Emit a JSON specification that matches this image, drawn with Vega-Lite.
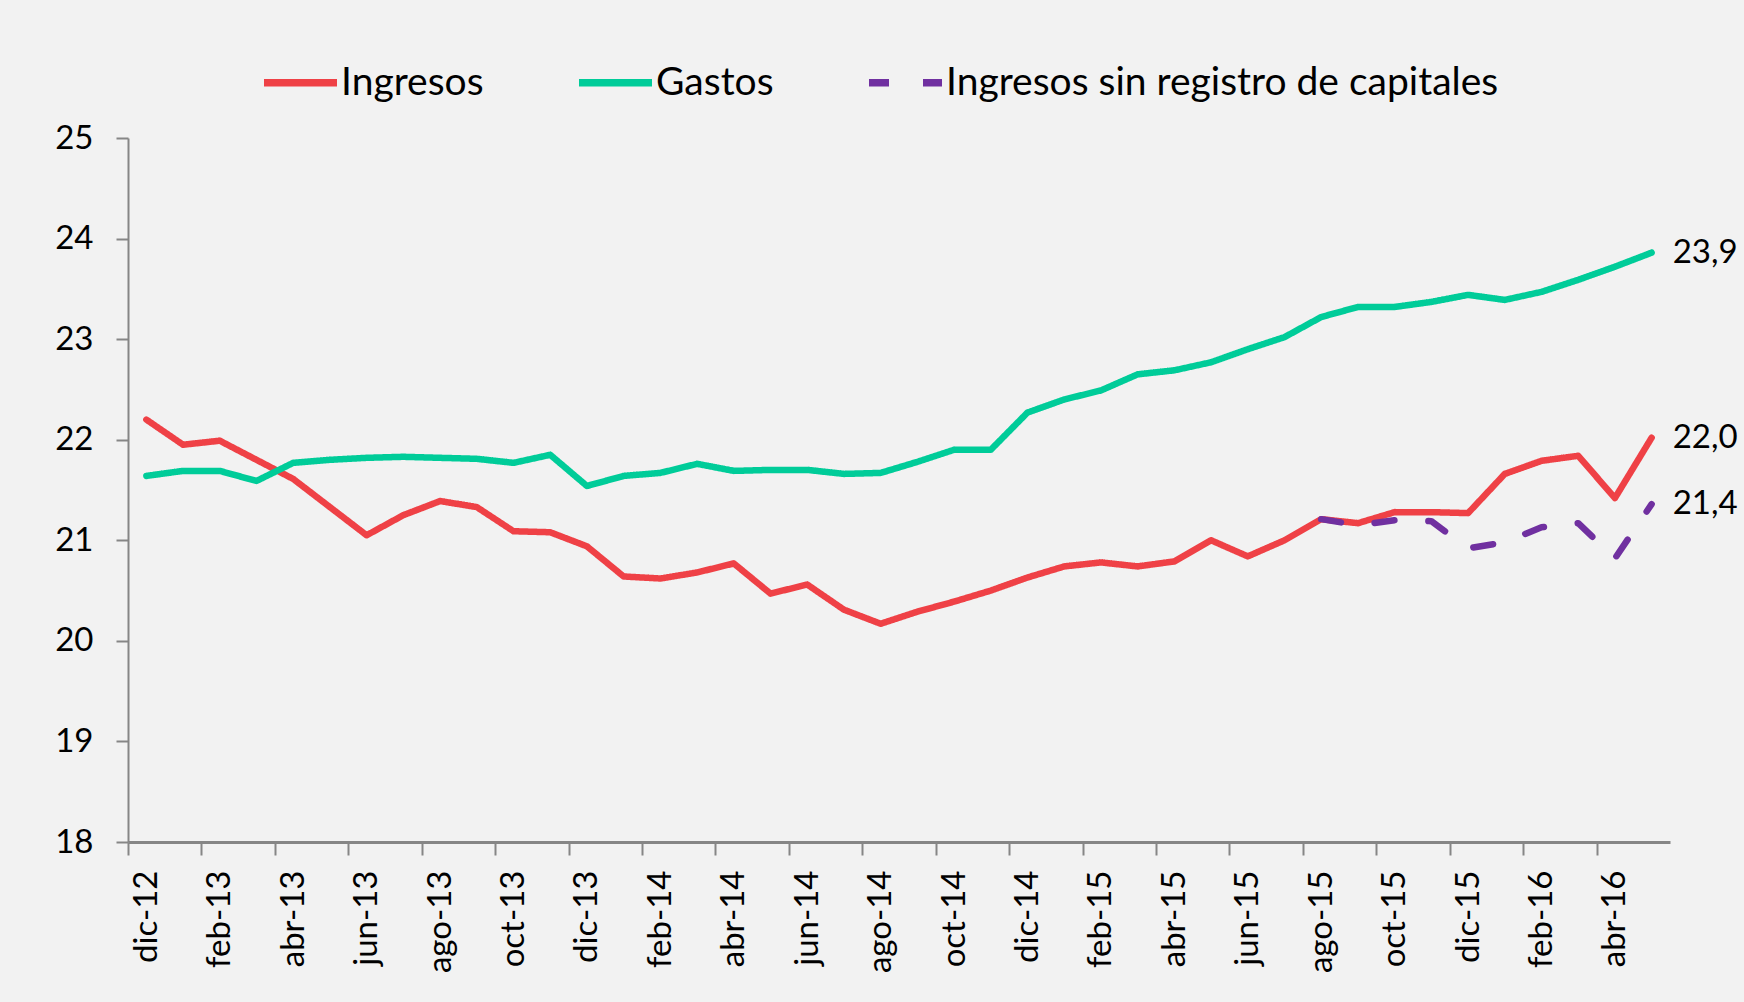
{
  "$schema": "https://vega.github.io/schema/vega-lite/v6.json",
  "width": 1542,
  "height": 704,
  "autosize": {"type": "none"},
  "padding": {"left": 128, "top": 138, "right": 74, "bottom": 160},
  "background": "#F2F2F2",
  "config": {
    "view": {"stroke": null},
    "font": "Lato",
    "locale": {"number": {"decimal": ",", "thousands": ".", "grouping": [3], "currency": ["", " €"]}}
  },
  "datasets": {
    "d": [
      {"mes":"dic-12","serie":"Ingresos","valor":22.20},{"mes":"ene-13","serie":"Ingresos","valor":21.95},{"mes":"feb-13","serie":"Ingresos","valor":21.99},{"mes":"mar-13","serie":"Ingresos","valor":21.80},{"mes":"abr-13","serie":"Ingresos","valor":21.61},{"mes":"may-13","serie":"Ingresos","valor":21.33},{"mes":"jun-13","serie":"Ingresos","valor":21.05},{"mes":"jul-13","serie":"Ingresos","valor":21.25},{"mes":"ago-13","serie":"Ingresos","valor":21.39},{"mes":"sep-13","serie":"Ingresos","valor":21.33},{"mes":"oct-13","serie":"Ingresos","valor":21.09},{"mes":"nov-13","serie":"Ingresos","valor":21.08},{"mes":"dic-13","serie":"Ingresos","valor":20.94},
      {"mes":"ene-14","serie":"Ingresos","valor":20.64},{"mes":"feb-14","serie":"Ingresos","valor":20.62},{"mes":"mar-14","serie":"Ingresos","valor":20.68},{"mes":"abr-14","serie":"Ingresos","valor":20.77},{"mes":"may-14","serie":"Ingresos","valor":20.47},{"mes":"jun-14","serie":"Ingresos","valor":20.56},{"mes":"jul-14","serie":"Ingresos","valor":20.31},{"mes":"ago-14","serie":"Ingresos","valor":20.17},{"mes":"sep-14","serie":"Ingresos","valor":20.29},{"mes":"oct-14","serie":"Ingresos","valor":20.39},{"mes":"nov-14","serie":"Ingresos","valor":20.50},{"mes":"dic-14","serie":"Ingresos","valor":20.63},
      {"mes":"ene-15","serie":"Ingresos","valor":20.74},{"mes":"feb-15","serie":"Ingresos","valor":20.78},{"mes":"mar-15","serie":"Ingresos","valor":20.74},{"mes":"abr-15","serie":"Ingresos","valor":20.79},{"mes":"may-15","serie":"Ingresos","valor":21.00},{"mes":"jun-15","serie":"Ingresos","valor":20.84},{"mes":"jul-15","serie":"Ingresos","valor":21.00},{"mes":"ago-15","serie":"Ingresos","valor":21.21},{"mes":"sep-15","serie":"Ingresos","valor":21.17},{"mes":"oct-15","serie":"Ingresos","valor":21.28},{"mes":"nov-15","serie":"Ingresos","valor":21.28},{"mes":"dic-15","serie":"Ingresos","valor":21.27},
      {"mes":"ene-16","serie":"Ingresos","valor":21.66},{"mes":"feb-16","serie":"Ingresos","valor":21.79},{"mes":"mar-16","serie":"Ingresos","valor":21.84},{"mes":"abr-16","serie":"Ingresos","valor":21.42},{"mes":"may-16","serie":"Ingresos","valor":22.02},
      {"mes":"dic-12","serie":"Gastos","valor":21.64},{"mes":"ene-13","serie":"Gastos","valor":21.69},{"mes":"feb-13","serie":"Gastos","valor":21.69},{"mes":"mar-13","serie":"Gastos","valor":21.59},{"mes":"abr-13","serie":"Gastos","valor":21.77},{"mes":"may-13","serie":"Gastos","valor":21.80},{"mes":"jun-13","serie":"Gastos","valor":21.82},{"mes":"jul-13","serie":"Gastos","valor":21.83},{"mes":"ago-13","serie":"Gastos","valor":21.82},{"mes":"sep-13","serie":"Gastos","valor":21.81},{"mes":"oct-13","serie":"Gastos","valor":21.77},{"mes":"nov-13","serie":"Gastos","valor":21.85},{"mes":"dic-13","serie":"Gastos","valor":21.54},
      {"mes":"ene-14","serie":"Gastos","valor":21.64},{"mes":"feb-14","serie":"Gastos","valor":21.67},{"mes":"mar-14","serie":"Gastos","valor":21.76},{"mes":"abr-14","serie":"Gastos","valor":21.69},{"mes":"may-14","serie":"Gastos","valor":21.70},{"mes":"jun-14","serie":"Gastos","valor":21.70},{"mes":"jul-14","serie":"Gastos","valor":21.66},{"mes":"ago-14","serie":"Gastos","valor":21.67},{"mes":"sep-14","serie":"Gastos","valor":21.78},{"mes":"oct-14","serie":"Gastos","valor":21.90},{"mes":"nov-14","serie":"Gastos","valor":21.90},{"mes":"dic-14","serie":"Gastos","valor":22.27},
      {"mes":"ene-15","serie":"Gastos","valor":22.40},{"mes":"feb-15","serie":"Gastos","valor":22.49},{"mes":"mar-15","serie":"Gastos","valor":22.65},{"mes":"abr-15","serie":"Gastos","valor":22.69},{"mes":"may-15","serie":"Gastos","valor":22.77},{"mes":"jun-15","serie":"Gastos","valor":22.90},{"mes":"jul-15","serie":"Gastos","valor":23.02},{"mes":"ago-15","serie":"Gastos","valor":23.22},{"mes":"sep-15","serie":"Gastos","valor":23.32},{"mes":"oct-15","serie":"Gastos","valor":23.32},{"mes":"nov-15","serie":"Gastos","valor":23.37},{"mes":"dic-15","serie":"Gastos","valor":23.44},
      {"mes":"ene-16","serie":"Gastos","valor":23.39},{"mes":"feb-16","serie":"Gastos","valor":23.47},{"mes":"mar-16","serie":"Gastos","valor":23.59},{"mes":"abr-16","serie":"Gastos","valor":23.72},{"mes":"may-16","serie":"Gastos","valor":23.86},
      {"mes":"ago-15","serie":"Ingresos sin registro de capitales","valor":21.21},{"mes":"sep-15","serie":"Ingresos sin registro de capitales","valor":21.15},{"mes":"oct-15","serie":"Ingresos sin registro de capitales","valor":21.20},{"mes":"nov-15","serie":"Ingresos sin registro de capitales","valor":21.19},{"mes":"dic-15","serie":"Ingresos sin registro de capitales","valor":20.92},{"mes":"ene-16","serie":"Ingresos sin registro de capitales","valor":20.98},{"mes":"feb-16","serie":"Ingresos sin registro de capitales","valor":21.13},{"mes":"mar-16","serie":"Ingresos sin registro de capitales","valor":21.17},{"mes":"abr-16","serie":"Ingresos sin registro de capitales","valor":20.82},{"mes":"may-16","serie":"Ingresos sin registro de capitales","valor":21.36}
    ]
  },
  "data": {"name": "d"},
  "encoding": {
    "x": {
      "field": "mes", "type": "ordinal",
      "scale": {"type": "point", "padding": 0.5, "domain": ["dic-12","ene-13","feb-13","mar-13","abr-13","may-13","jun-13","jul-13","ago-13","sep-13","oct-13","nov-13","dic-13","ene-14","feb-14","mar-14","abr-14","may-14","jun-14","jul-14","ago-14","sep-14","oct-14","nov-14","dic-14","ene-15","feb-15","mar-15","abr-15","may-15","jun-15","jul-15","ago-15","sep-15","oct-15","nov-15","dic-15","ene-16","feb-16","mar-16","abr-16","may-16"]},
      "axis": {
        "title": null,
        "values": ["dic-12","feb-13","abr-13","jun-13","ago-13","oct-13","dic-13","feb-14","abr-14","jun-14","ago-14","oct-14","dic-14","feb-15","abr-15","jun-15","ago-15","oct-15","dic-15","feb-16","abr-16"],
        "labelAngle": -90,
        "tickOffset": -18.36,
        "labelOffset": 18.36,
        "tickSize": 13,
        "tickColor": "#868686",
        "tickWidth": 2,
        "domainColor": "#868686",
        "domainWidth": 3,
        "labelPadding": 15,
        "labelFontSize": 33,
        "labelColor": "black",
        "grid": false
      }
    },
    "y": {
      "field": "valor", "type": "quantitative",
      "scale": {"domain": [18, 25], "nice": false, "zero": false},
      "axis": {
        "title": null,
        "values": [18,19,20,21,22,23,24,25],
        "tickSize": 12,
        "tickColor": "#868686",
        "tickWidth": 2,
        "domainColor": "#868686",
        "domainWidth": 2,
        "labelPadding": 23,
        "labelFontSize": 33,
        "labelColor": "black",
        "grid": false
      }
    }
  },
  "layer": [
    {
      "mark": {"type": "line", "strokeWidth": 6.5, "strokeCap": "round", "strokeJoin": "round"},
      "encoding": {
        "color": {
          "field": "serie", "type": "nominal",
          "scale": {"domain": ["Ingresos","Gastos","Ingresos sin registro de capitales"], "range": ["#EF4146","#00CC99","#7030A0"]},
          "legend": {"title": null, "orient": "none", "legendX": 132, "legendY": -96, "direction": "horizontal", "symbolType": "stroke", "symbolSize": 5329, "symbolStrokeWidth": 7.3, "labelFontSize": 39, "labelColor": "black", "labelOffset": 0, "columnPadding": 80, "labelLimit": 0}
        },
        "strokeDash": {
          "field": "serie", "type": "nominal",
          "scale": {"domain": ["Ingresos","Gastos","Ingresos sin registro de capitales"], "range": [[1,0],[1,0],[20,34]]},
          "legend": {"title": null, "orient": "none", "legendX": 132, "legendY": -96, "direction": "horizontal", "symbolType": "stroke", "symbolSize": 5329, "symbolStrokeWidth": 7.3, "labelFontSize": 39, "labelColor": "black", "labelOffset": 0, "columnPadding": 80, "labelLimit": 0}
        }
      }
    },
    {
      "transform": [{"filter": "datum.mes == 'may-16'"}],
      "mark": {"type": "text", "align": "left", "baseline": "middle", "dx": 21, "fontSize": 33, "color": "black"},
      "encoding": {
        "text": {"field": "valor", "type": "quantitative", "format": ".1f"}
      }
    }
  ]
}
